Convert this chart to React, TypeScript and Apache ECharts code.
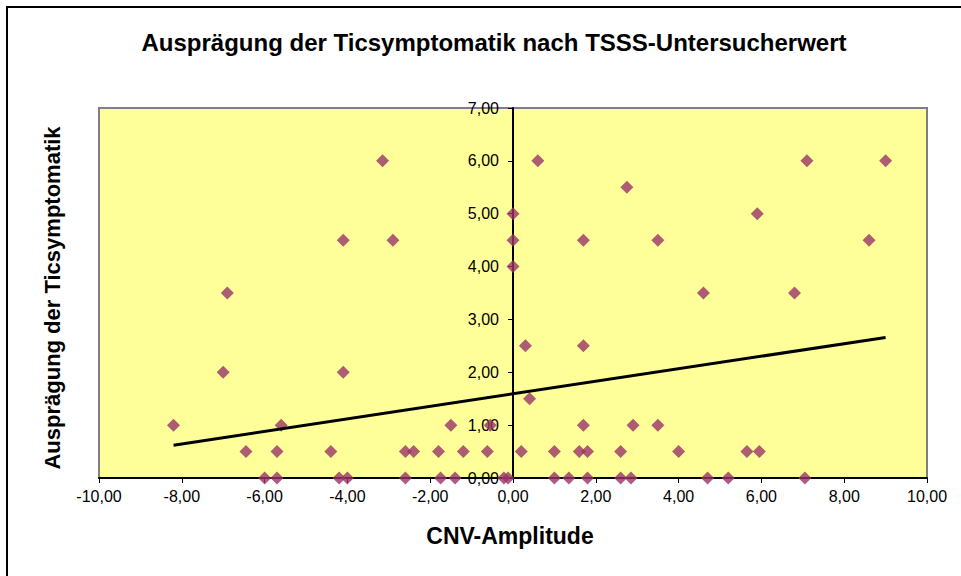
import React, { useEffect, useRef } from "react";
import * as echarts from "echarts";

// CNV-Amplitude (x) and Ausprägung der Ticsymptomatik (y)
const cnvAmplitude: number[] = [
  -3.15, 0.6, 7.1, 9.0,
  2.75,
  0, 5.9,
  -4.1, -2.9, 0, 1.7, 3.5, 8.6,
  0,
  -6.9, 4.6, 6.8,
  0.3, 1.7,
  -7.0, -4.1,
  0.4,
  -8.2, -5.6, -1.5, -0.55, 1.7, 2.9, 3.5,
  -6.45, -5.7, -4.4, -2.6, -2.4, -1.8, -1.2, -0.62, 0.2, 1.0, 1.6, 1.8, 2.6, 4.0, 5.65, 5.95,
  -6.0, -5.7, -4.2, -4.0, -2.6, -1.75, -1.4, -0.22, -0.12, 1.0, 1.35, 1.8, 2.6, 2.85, 4.7, 5.2, 7.05,
];
const ticScore: number[] = [
  6, 6, 6, 6,
  5.5,
  5, 5,
  4.5, 4.5, 4.5, 4.5, 4.5, 4.5,
  4,
  3.5, 3.5, 3.5,
  2.5, 2.5,
  2, 2,
  1.5,
  1, 1, 1, 1, 1, 1, 1,
  0.5, 0.5, 0.5, 0.5, 0.5, 0.5, 0.5, 0.5, 0.5, 0.5, 0.5, 0.5, 0.5, 0.5, 0.5, 0.5,
  0, 0, 0, 0, 0, 0, 0, 0, 0, 0, 0, 0, 0, 0, 0, 0, 0,
];

// Linear trend line end points
const trendX: number[] = [-8.2, 9.0];
const trendY: number[] = [0.62, 2.66];

const xMin = -10;
const xMax = 10;

const titleText = "Ausprägung der Ticsymptomatik nach TSSS-Untersucherwert";
const xAxisTitle = "CNV-Amplitude";
const yAxisTitle = "Ausprägung der Ticsymptomatik";

const fmt = (v: number) => v.toFixed(2).replace(".", ",");
const FONT = "Arial, 'Liberation Sans', sans-serif";

const GRID_LEFT = 99;
const GRID_WIDTH = 828;

export default function App() {
  const ref = useRef<HTMLDivElement>(null);
  useEffect(() => {
    if (!ref.current) return;
    const chart = echarts.init(ref.current, undefined, { renderer: "svg" });
    const points = cnvAmplitude.map((x, i) => [x, ticScore[i]]);
    const trend = trendX.map((x, i) => [x, trendY[i]]);
    // shift the y axis so it sits on x = 0
    const yAxisOffset = -(GRID_WIDTH * (0 - xMin)) / (xMax - xMin);
    chart.setOption({
      animation: false,
      backgroundColor: "#ffffff",
      grid: {
        left: GRID_LEFT,
        top: 108,
        width: GRID_WIDTH,
        height: 370,
        show: true,
        backgroundColor: "#FFFF99",
        borderColor: "#808080",
        borderWidth: 2,
      },
      xAxis: {
        type: "value",
        min: xMin,
        max: xMax,
        interval: 2,
        splitLine: { show: false },
        axisLine: { show: true, onZero: false, lineStyle: { color: "#000", width: 2 } },
        axisTick: { show: true, length: 5, lineStyle: { color: "#000", width: 1 } },
        axisLabel: {
          formatter: fmt,
          fontSize: 16,
          color: "#000",
          fontFamily: FONT,
          margin: 10,
        },
      },
      yAxis: {
        type: "value",
        min: 0,
        max: 7,
        interval: 1,
        position: "left",
        offset: yAxisOffset,
        splitLine: { show: false },
        axisLine: { show: true, onZero: false, lineStyle: { color: "#000", width: 2 } },
        axisTick: { show: true, length: 5, lineStyle: { color: "#000", width: 1 } },
        axisLabel: {
          formatter: fmt,
          fontSize: 16,
          color: "#000",
          fontFamily: FONT,
          margin: 14,
        },
      },
      series: [
        {
          type: "scatter",
          data: points,
          symbol: "diamond",
          symbolSize: 13,
          itemStyle: { color: "#993366" },
          z: 3,
        },
        {
          type: "line",
          data: trend,
          showSymbol: false,
          symbol: "none",
          lineStyle: { color: "#000", width: 3 },
          z: 4,
        },
      ],
      graphic: [
        {
          type: "rect",
          shape: { x: 7, y: 7, width: 1000, height: 1000 },
          style: { fill: "none", stroke: "#000", lineWidth: 2 },
          silent: true,
        },
        {
          type: "text",
          x: 494,
          y: 42,
          style: {
            text: titleText,
            fontSize: 24,
            fontWeight: "bold",
            fontFamily: FONT,
            fill: "#000",
            align: "center",
            verticalAlign: "middle",
          },
        },
        {
          type: "text",
          x: 510,
          y: 536,
          style: {
            text: xAxisTitle,
            fontSize: 23,
            fontWeight: "bold",
            fontFamily: FONT,
            fill: "#000",
            align: "center",
            verticalAlign: "middle",
          },
        },
        {
          type: "text",
          x: 52,
          y: 298,
          rotation: Math.PI / 2,
          style: {
            text: yAxisTitle,
            fontSize: 22,
            fontWeight: "bold",
            fontFamily: FONT,
            fill: "#000",
            align: "center",
            verticalAlign: "middle",
          },
        },
      ],
    });
    return () => chart.dispose();
  }, []);
  return (
    <div
      ref={ref}
      style={{ position: "fixed", left: 0, top: 0, width: 961, height: 576 }}
    />
  );
}
